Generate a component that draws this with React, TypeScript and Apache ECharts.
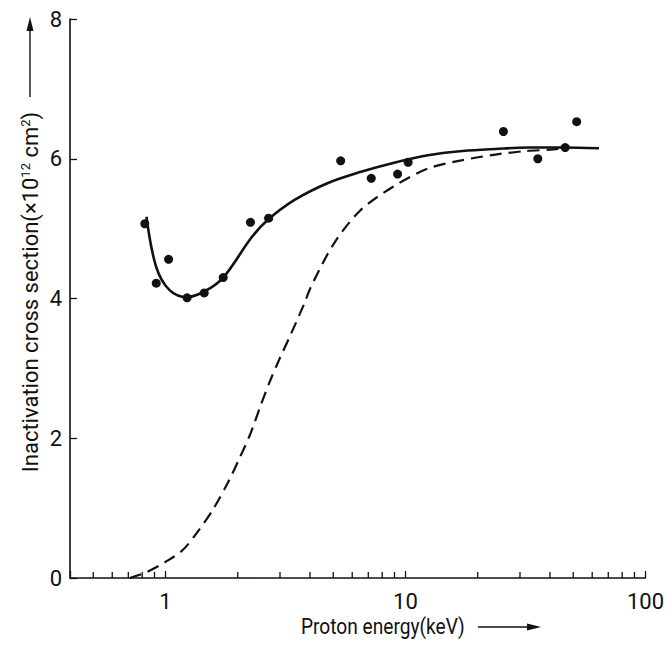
import React, { useEffect, useRef } from "react";
import * as echarts from "echarts";

// Measured points: [proton energy keV, cross section ×10^12 cm^2]
const measuredPoints: [number, number][] = [
  [0.82, 5.07], [0.915, 4.22], [1.03, 4.56], [1.23, 4.01], [1.45, 4.08],
  [1.74, 4.3], [2.26, 5.09], [2.69, 5.15], [5.37, 5.97], [7.2, 5.72],
  [9.27, 5.78], [10.26, 5.95], [25.6, 6.39], [35.6, 6.0], [46.3, 6.16],
  [51.7, 6.53],
];

// Solid fitted curve
const fitCurve: [number, number][] = [
  [0.833, 5.17], [0.915, 4.45], [1.04, 4.12], [1.23, 4.02], [1.45, 4.1],
  [1.74, 4.3], [2.29, 4.88], [2.68, 5.13], [3.45, 5.41], [4.73, 5.65],
  [6.48, 5.81], [8.88, 5.94], [12.4, 6.05], [17.3, 6.11], [23.7, 6.14],
  [32.4, 6.16], [44.5, 6.16], [64, 6.15],
];

// Dashed curve
const dashedCurve: [number, number][] = [
  [0.71, 0], [0.83, 0.08], [1.0, 0.23], [1.18, 0.4], [1.38, 0.69],
  [1.57, 0.97], [1.83, 1.38], [2.05, 1.74], [2.25, 2.05], [2.48, 2.45],
  [2.72, 2.81], [2.99, 3.14], [3.29, 3.45], [3.79, 3.93], [4.04, 4.17],
  [5.04, 4.79], [6.48, 5.26], [8.88, 5.6], [12.4, 5.86], [17.3, 5.98],
  [23.7, 6.06], [31.5, 6.11], [40, 6.13], [46, 6.15],
];

const xMajorLabels = [1, 10, 100];
const xMinorTicks = [
  0.5, 0.6, 0.7, 0.8, 0.9, 2, 3, 4, 5, 6, 7, 8, 9, 20, 30, 40, 50, 60, 70, 80, 90,
];
const xRange = [0.4, 100];
const yRange = [0, 8];
const yStep = 2;

const FONT = 'Roboto, "Liberation Sans", "Noto Sans", sans-serif';
const INK = "#111";

export default function App() {
  const ref = useRef<HTMLDivElement>(null);
  useEffect(() => {
    document.body.style.margin = "0";
    const chart = echarts.init(ref.current!, null, { renderer: "svg" });
    chart.setOption({
      animation: false,
      backgroundColor: "#fff",
      grid: { left: 70, right: 15, top: 19, bottom: 75 },
      xAxis: {
        type: "log",
        logBase: 10,
        min: xRange[0],
        max: xRange[1],
        axisLine: { show: true, lineStyle: { color: INK, width: 1.6 } },
        axisTick: { show: true, inside: true, length: 7, lineStyle: { color: INK, width: 1.3 } },
        axisLabel: {
          margin: 12,
          color: INK,
          fontFamily: FONT,
          fontSize: 22,
          formatter: (v: number) => {
            const m = xMajorLabels.find((t) => Math.abs(t - v) / t < 1e-6);
            return m !== undefined ? String(m) : "";
          },
        },
        splitLine: { show: false },
      },
      yAxis: {
        type: "value",
        min: yRange[0],
        max: yRange[1],
        interval: yStep,
        axisLine: { show: true, lineStyle: { color: INK, width: 1.6 } },
        axisTick: { show: true, inside: true, length: 7, lineStyle: { color: INK, width: 1.3 } },
        axisLabel: { margin: 8, color: INK, fontFamily: FONT, fontSize: 22 },
        splitLine: { show: false },
      },
      series: [
        {
          type: "scatter",
          name: "minor ticks",
          data: xMinorTicks.map((v) => [v, 0]),
          symbol: "rect",
          symbolSize: [1.3, 6],
          symbolOffset: [0, -3],
          itemStyle: { color: INK, opacity: 1 },
          silent: true,
          clip: false,
          z: 1,
        },
        {
          type: "line",
          name: "dashed",
          data: dashedCurve,
          smooth: 0.3,
          showSymbol: false,
          lineStyle: { color: INK, width: 2.2, type: [12, 7] },
          z: 2,
        },
        {
          type: "line",
          name: "fit",
          data: fitCurve,
          smooth: 0.35,
          showSymbol: false,
          lineStyle: { color: INK, width: 2.6 },
          z: 3,
        },
        {
          type: "scatter",
          name: "measured",
          data: measuredPoints,
          symbol: "circle",
          symbolSize: 9,
          itemStyle: { color: INK, opacity: 1 },
          z: 4,
        },
      ],
      graphic: [
        {
          type: "text",
          x: 30,
          y: 292,
          rotation: Math.PI / 2,
          scaleX: 1.0,
          style: {
            text: "Inactivation cross section(×10{sup|12} cm{sup|2})",
            font: `22px ${FONT}`,
            fill: INK,
            align: "center",
            verticalAlign: "middle",
            rich: {
              sup: { fontSize: 13, fontFamily: FONT, fill: INK, verticalAlign: "top", lineHeight: 12 },
            },
          },
        },
        {
          type: "line",
          shape: { x1: 30, y1: 97, x2: 30, y2: 28 },
          style: { stroke: INK, lineWidth: 1.4 },
        },
        {
          type: "polygon",
          shape: { points: [[30, 17], [26.5, 31], [33.5, 31]] },
          style: { fill: INK },
        },
        {
          type: "text",
          x: 301,
          y: 627,
          scaleX: 0.87,
          style: {
            text: "Proton energy(keV)",
            font: `22px ${FONT}`,
            fill: INK,
            align: "left",
            verticalAlign: "middle",
          },
        },
        {
          type: "line",
          shape: { x1: 478, y1: 627, x2: 530, y2: 627 },
          style: { stroke: INK, lineWidth: 1.4 },
        },
        {
          type: "polygon",
          shape: { points: [[541, 627], [527, 623.5], [527, 630.5]] },
          style: { fill: INK },
        },
      ],
    });
    return () => chart.dispose();
  }, []);
  return <div ref={ref} style={{ width: 667, height: 653 }} />;
}
